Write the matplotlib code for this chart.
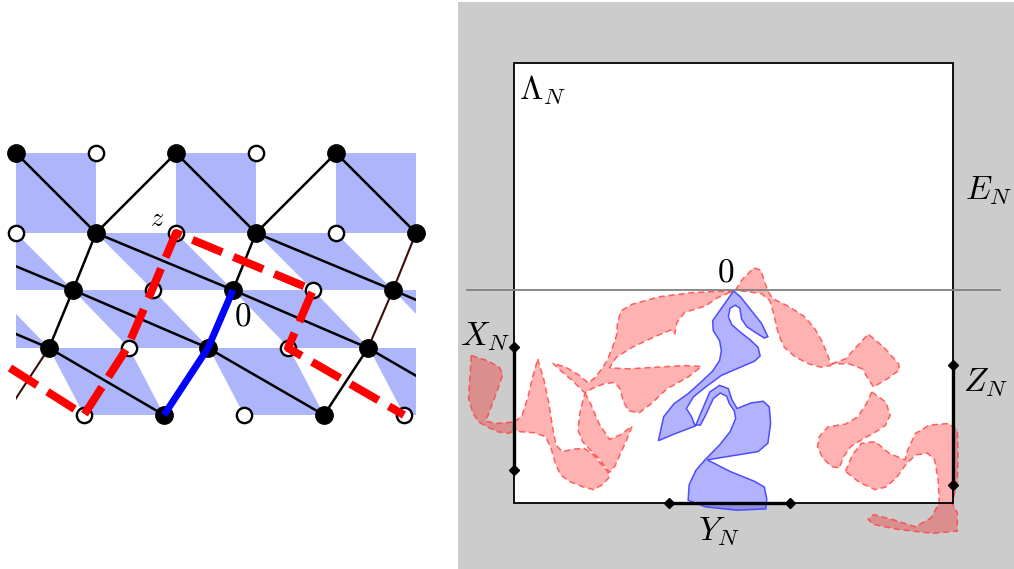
import numpy as np
import matplotlib.pyplot as plt
from matplotlib.path import Path
from matplotlib.patches import PathPatch, Rectangle, Polygon

plt.rcParams['mathtext.fontset'] = 'cm'

W, H = 1014, 569

# ---------- left panel: lattice ----------
ROW_Y = [153, 233, 290, 348, 415]
ROW_X = [[16, 96, 176, 256, 336],
         [16, 96, 176, 256, 336, 416],
         [73, 153, 233, 313, 393],
         [49, 129, 208, 288, 368],
         [84, 164, 244, 324, 404]]
FIRST_FILLED = [True, False, True, True, False]

# shaded bands: (y top, y bottom, x of first blue cell at top, shear)
BANDS = [(153, 233, 16, 0), (233, 290, -64, 57), (290, 348, -87, 56), (348, 415, -111, 35)]

BLACK_EDGES = [
    [(16, 153), (96, 233), (176, 153), (256, 233), (336, 153), (416, 233)],
    [(96, 233), (73, 290), (49, 348)],
    [(256, 233), (233, 290)],
    [(368, 348), (324, 415)],
    [(-64, 233), (73, 290), (208, 348), (324, 415)],
    [(96, 233), (233, 290), (368, 348), (484, 415)],
    [(256, 233), (393, 290), (528, 348)],
    [(-88, 290), (49, 348), (164, 415)],
]
BROWN_EDGES = [
    [(49, 348), (5, 415)],
    [(416, 233), (393, 290), (368, 348)],
]
RED_PATH = [(10, 368), (84, 415), (127, 348), (152, 290), (176, 233), (313, 290), (288, 348), (404, 415)]
BLUE_PATH = [(233, 290), (208, 348), (164, 415)]

# ---------- right panel: clusters (outlines traced on a 3x grid) ----------
RED_SHAPES = [
    [(785,120),(740,121),(660,125),(570,137),(490,160),(458,180),(448,215),(445,255),(432,295),
     (418,330),(405,352),(385,380),(365,398),(335,372),(300,350),(263,338),(285,360),(320,392),
     (355,428),(375,415),(410,400),(440,396),(455,415),(465,455),(480,482),(510,488),(545,460),
     (590,415),(650,380),(688,348),(640,345),(560,350),(480,355),(425,352),(445,320),(490,290),
     (555,258),(600,238),(612,250),(618,215),(640,185),(700,165),(735,140),(770,124)],
    [(220,325),(238,390),(252,460),(262,530),(272,585),(290,605),(320,598),(352,595),(375,610),
     (395,635),(420,665),(425,682),(405,705),(380,720),(350,712),(310,695),(285,675),(270,640),
     (258,595),(242,560),(210,548),(170,545),(152,540),(150,520),(175,495),(192,440),(205,380)],
    [(355,428),(372,462),(395,520),(425,568),(455,555),(490,528),(472,575),(455,615),(440,650),
     (425,668),(398,630),(372,602),(348,575),(335,540),(340,490),(348,455)],
    [(30,315),(75,330),(110,350),(120,372),(108,410),(92,455),(78,495),(70,512),(100,520),(130,518),
     (152,515),(155,542),(135,550),(105,545),(75,530),(50,515),(35,490),(22,445),(25,390)],
    [(785,118),(805,85),(838,50),(858,57),(868,90),(878,120),(892,143),(935,165),(980,195),
     (1010,230),(1032,270),(1050,315),(1058,345),(1030,350),(995,340),(955,318),(925,290),
     (908,250),(896,195),(884,150),(860,128),(820,122)],
    [(1060,340),(1100,325),(1165,250),(1210,290),(1252,340),(1255,358),(1220,385),(1180,410),
     (1165,385),(1148,355),(1110,340)],
    [(1175,425),(1215,455),(1228,495),(1215,525),(1180,550),(1145,570),(1115,590),(1095,620),
     (1082,655),(1060,650),(1035,625),(1020,590),(1025,560),(1050,530),(1100,522),(1135,500),(1160,460)],
    [(1100,665),(1120,615),(1145,580),(1185,575),(1225,610),(1270,630),(1278,600),(1300,550),
     (1340,525),(1395,520),(1420,540),(1422,620),(1420,700),(1405,760),(1420,790),(1420,845),
     (1350,852),(1250,840),(1180,825),(1165,810),(1180,795),(1240,812),(1300,832),(1345,805),
     (1368,760),(1365,690),(1355,630),(1335,610),(1300,615),(1272,645),(1245,685),(1215,712),
     (1185,720),(1140,698)],
]
BLUE_SHAPES = [
    [(780,120),(800,138),(830,178),(860,218),(878,258),(868,262),(842,245),(818,228),(803,205),
     (798,172),(785,163),(770,172),(765,198),(775,222),(800,245),(828,268),(850,290),(856,316),
     (840,332),(800,350),(745,375),(700,410),(665,440),(645,475),(660,500),(670,528),(610,552),
     (565,572),(580,500),(610,460),(650,430),(690,392),(720,362),(740,330),(745,300),(740,270),
     (722,240),(720,210),(740,180),(760,150)],
    [(672,525),(690,480),(712,425),(740,405),(765,415),(775,448),(790,475),(830,458),(865,453),
     (882,470),(886,520),(878,580),(850,605),(780,617),(705,630),(770,665),(840,695),(868,712),
     (875,748),(872,778),(790,782),(700,772),(650,752),(653,705),(672,662),(700,628),(740,585),
     (770,545),(786,505),(782,482),(768,460),(760,438),(742,428),(722,445),(700,495),(685,525)],
]

BOX = (514, 63, 953, 503)
X_SEG = [(514, 347), (514, 470)]
Y_SEG = [(669, 503), (790, 503)]
Z_SEG = [(953, 365), (953, 485)]


def traced(pts):
    return [(514 + (x - 152) / 2.86, 290 + (y - 117) / 3.02) for x, y in pts]


def compound(shapes):
    verts, codes = [], []
    for s in shapes:
        p = np.asarray(traced(s), dtype=float)
        x, y = p[:, 0], p[:, 1]
        if np.sum(x * np.roll(y, -1) - np.roll(x, -1) * y) < 0:
            p = p[::-1]
        verts += list(p) + [p[0]]
        codes += [Path.MOVETO] + [Path.LINETO] * (len(p) - 1) + [Path.CLOSEPOLY]
    return Path(verts, codes)


fig = plt.figure(figsize=(W / 100, H / 100), dpi=100)
ax = fig.add_axes([0, 0, 1, 1])
ax.set_xlim(0, W)
ax.set_ylim(H, 0)
ax.axis('off')

clip = Rectangle((16, 140), 400, 290, transform=ax.transData)

for yt, yb, x0, sh in BANDS:
    for k in range(5):
        xs = x0 + 160 * k
        poly = Polygon([(xs, yt), (xs + 80, yt), (xs + 80 + sh, yb), (xs + sh, yb)],
                       closed=True, fc='#adb6fa', ec='none', zorder=1)
        ax.add_patch(poly)
        poly.set_clip_path(clip)

for e in BLACK_EDGES:
    xs, ys = zip(*e)
    ln, = ax.plot(xs, ys, color='black', lw=1.8, zorder=2)
    ln.set_clip_path(clip)
for e in BROWN_EDGES:
    xs, ys = zip(*e)
    ln, = ax.plot(xs, ys, color='#3a0c0c', lw=1.5, zorder=2)
    ln.set_clip_path(clip)

for y, row, f0 in zip(ROW_Y, ROW_X, FIRST_FILLED):
    for i, x in enumerate(row):
        filled = (i % 2 == 0) == f0
        if filled:
            ax.plot(x, y, 'o', ms=12.5, mfc='black', mec='black', zorder=3)
        else:
            ax.plot(x, y, 'o', ms=11, mfc='white', mec='black', mew=1.7, zorder=3)

rx, ry = zip(*RED_PATH)
ax.plot(rx, ry, color='#ff0000', lw=5.8, dashes=(4.0, 1.5), dash_capstyle='butt', zorder=5)
bx, by = zip(*BLUE_PATH)
ax.plot(bx, by, color='#0000ff', lw=5, solid_capstyle='butt', zorder=6)

ax.text(157, 219, r'$z$', fontsize=19, ha='center', va='center', zorder=7)
ax.text(243, 316, r'$0$', fontsize=24, ha='center', va='center', zorder=7)

# ---------- right panel ----------
ax.add_patch(Rectangle((458, 2), W - 458, H - 2, fc='#cccccc', ec='none', zorder=0))
x0, y0, x1, y1 = BOX
ax.add_patch(Rectangle((x0, y0), x1 - x0, y1 - y0, fc='white', ec='none', zorder=1))

ax.add_patch(PathPatch(compound(RED_SHAPES), fc=(1, 0, 0, 0.3), ec=(1, 0.25, 0.25, 0.8),
                       lw=1.1, ls=(0, (4, 2.5)), zorder=2))
ax.add_patch(PathPatch(compound(BLUE_SHAPES), fc=(0, 0, 1, 0.3), ec=(0.3, 0.3, 1, 1),
                       lw=1.1, zorder=3))

ax.add_patch(Rectangle((x0, y0), x1 - x0, y1 - y0, fill=False, ec='black', lw=1.3, zorder=4))
ax.plot([467, 1000], [290, 290], color='#808080', lw=1.3, zorder=4)

for seg in (X_SEG, Y_SEG, Z_SEG):
    xs, ys = zip(*seg)
    ax.plot(xs, ys, color='black', lw=2.4, marker='D', ms=5.5, zorder=5)

ax.text(543, 90, r'$\Lambda_N$', fontsize=24, ha='center', va='center', zorder=7)
ax.text(989, 190, r'$E_N$', fontsize=24, ha='center', va='center', zorder=7)
ax.text(726, 272, r'$0$', fontsize=24, ha='center', va='center', zorder=7)
ax.text(485, 336, r'$X_N$', fontsize=24, ha='center', va='center', zorder=7)
ax.text(986, 382, r'$Z_N$', fontsize=24, ha='center', va='center', zorder=7)
ax.text(719, 532, r'$Y_N$', fontsize=24, ha='center', va='center', zorder=7)

fig.savefig('out.png', dpi=100)
